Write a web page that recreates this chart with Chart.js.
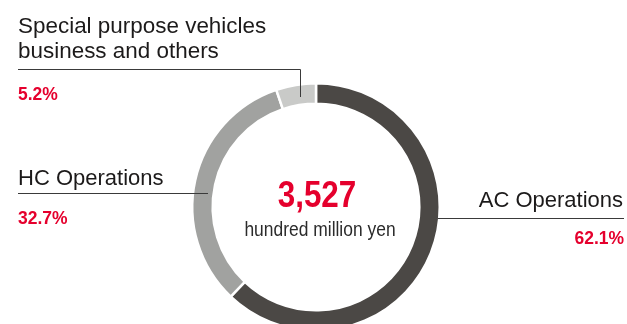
<!DOCTYPE html>
<html lang="en">
  <head>
    <meta charset="UTF-8" />
    <title>Net sales by segment</title>
    <script src="https://cdn.jsdelivr.net/npm/chart.js"></script>
    <style>
      html, body { margin: 0; padding: 0; background: #fff; overflow: hidden; }
      #wrap { position: relative; width: 627px; height: 414px; }
    </style>
  </head>
  <body>
    <div id="wrap"><canvas id="segChart"></canvas></div>
    <script>
      // segment shares (%), clockwise from 12 o'clock
      const segments = ["AC Operations", "HC Operations", "Special purpose vehicles business and others"];
      const shares = [62.1, 32.7, 5.2];
      const shareLabels = ["62.1%", "32.7%", "5.2%"];
      const segColors = ["#4b4845", "#a1a2a0", "#c9cac8"];
      const totalValue = "3,527";
      const totalUnit = "hundred million yen";

      const RED = "#e5002d";
      const INK = "#1c1a1a";

      function drawText(ctx, txt, x, y, font, color, align, sx) {
        ctx.save();
        ctx.font = font;
        ctx.fillStyle = color;
        ctx.textBaseline = "alphabetic";
        ctx.translate(x, y);
        ctx.scale(sx || 1, 1);
        ctx.textAlign = align;
        ctx.fillText(txt, 0, 0);
        ctx.restore();
      }

      const annotations = {
        id: "annotations",
        afterDraw(chart) {
          const ctx = chart.ctx;
          const arc = chart.getDatasetMeta(0).data[0];
          const cx = arc.x;
          const label = "22px 'Liberation Sans', Arial, sans-serif";
          const pct = "bold 19px 'Liberation Sans', Arial, sans-serif";

          // leader lines
          ctx.save();
          ctx.strokeStyle = "#3a3a3a";
          ctx.lineWidth = 1;
          ctx.beginPath();
          ctx.moveTo(18, 69.5); ctx.lineTo(300.5, 69.5); ctx.lineTo(300.5, 97);
          ctx.moveTo(18, 193.5); ctx.lineTo(208, 193.5);
          ctx.moveTo(438, 218.5); ctx.lineTo(624, 218.5);
          ctx.stroke();
          ctx.restore();

          // Special purpose vehicles
          drawText(ctx, "Special purpose vehicles", 18, 33, label, INK, "left", 1.02);
          drawText(ctx, "business and others", 18, 58, label, INK, "left", 1.02);
          drawText(ctx, shareLabels[2], 18, 100, pct, RED, "left", 0.92);

          // HC
          drawText(ctx, segments[1], 18, 185, label, INK, "left");
          drawText(ctx, shareLabels[1], 18, 224, pct, RED, "left", 0.92);

          // AC
          drawText(ctx, segments[0], 623, 207, label, INK, "right");
          drawText(ctx, shareLabels[0], 624, 244, pct, RED, "right", 0.92);

          // centre
          drawText(ctx, totalValue, cx + 1, 207, "bold 37px 'Liberation Sans', Arial, sans-serif", RED, "center", 0.85);
          drawText(ctx, totalUnit, cx + 4, 236, "21px 'Liberation Sans', Arial, sans-serif", "#2b2b2b", "center", 0.83);
        },
      };

      new Chart(document.getElementById("segChart"), {
        type: "doughnut",
        data: {
          labels: segments,
          datasets: [
            {
              data: shares,
              backgroundColor: segColors,
              borderColor: "#ffffff",
              borderWidth: 2.5,
              hoverOffset: 0,
            },
          ],
        },
        options: {
          responsive: true,
          maintainAspectRatio: false,
          animation: false,
          cutout: "83.5%",
          layout: { padding: { left: 191, right: 186, top: 82, bottom: 82 } },
          plugins: {
            legend: { display: false },
            tooltip: { enabled: false },
          },
        },
        plugins: [annotations],
      });
    </script>
  </body>
</html>
